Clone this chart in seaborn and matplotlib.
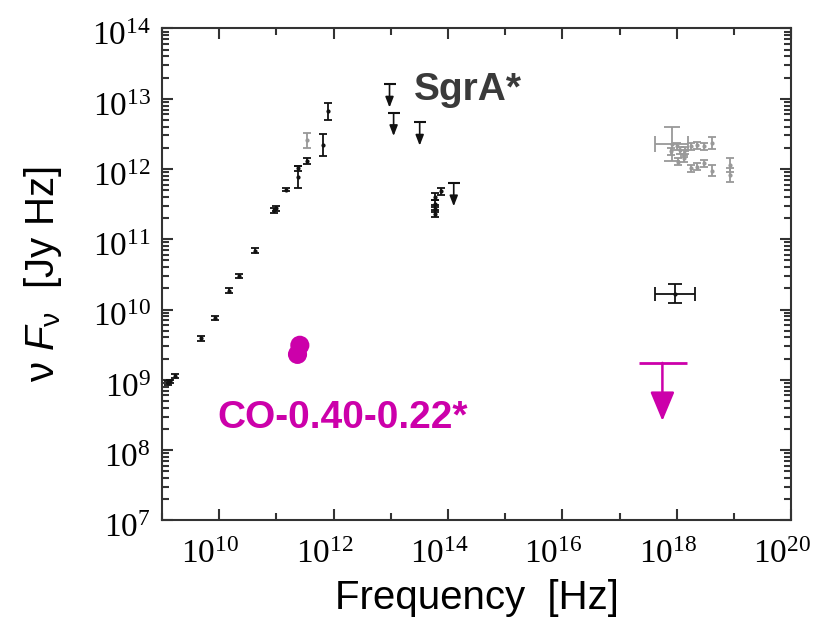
import numpy as np
import matplotlib
matplotlib.use("Agg")
import matplotlib.pyplot as plt
import matplotlib.ticker as mticker
import matplotlib.transforms as mtrans
import seaborn as sns

# radio / submm detections of SgrA* (Hz, Jy Hz)
radio_freq = [1.29e9, 1.38e9, 1.7e9, 4.9e9, 8.3e9, 1.48e10, 2.24e10, 4.3e10,
              9.1e10, 1.0e11, 1.48e11, 2.34e11, 2.34e11, 3.4e11, 6.5e11, 8.1e11]
radio_flux = [9.1e8, 9.5e8, 1.12e9, 3.9e9, 7.6e9, 1.86e10, 3.0e10, 6.9e10,
              2.57e11, 2.75e11, 5.1e11, 1.02e12, 7.8e11, 1.29e12, 2.19e12, 6.6e12]
radio_lo = [8.5e8, 8.9e8, 1.05e9, 3.6e9, 7.1e9, 1.7e10, 2.8e10, 6.3e10,
            2.35e11, 2.55e11, 4.8e11, 9.3e11, 5.4e11, 1.18e12, 1.51e12, 4.9e12]
radio_hi = [9.7e8, 1.01e9, 1.19e9, 4.2e9, 8.1e9, 2.03e10, 3.2e10, 7.5e10,
            2.8e11, 2.95e11, 5.4e11, 1.12e12, 1.1e12, 1.41e12, 3.16e12, 8.7e12]

# grey submm point
submm_freq = [3.4e11]
submm_flux = [2.57e12]
submm_lo = [2.0e12]
submm_hi = [3.2e12]

# IR detections
ir_freq = [5.9e13, 5.9e13, 5.9e13, 5.9e13, 7.5e13]
ir_flux = [4.0e11, 3.2e11, 2.7e11, 2.3e11, 4.8e11]
ir_dex = [0.05, 0.05, 0.05, 0.05, 0.05]

# IR upper limits
ul_freq = [9.5e12, 1.12e13, 3.2e13, 1.26e14]
ul_flux = [1.6e13, 6.3e12, 4.6e12, 6.3e11]

# X-ray flares (grey)
xf_big_freq = [8.1e17]
xf_big_flux = [2.3e12]
xf_big_xlo, xf_big_xhi = [4.2e17], [1.6e18]
xf_big_ylo, xf_big_yhi = [1.29e12], [4.0e12]
xf_freq = [7.8e17, 1.0e18, 1.15e18, 1.32e18, 1.41e18, 1.74e18, 2.24e18, 2.95e18,
           4.1e18, 1.07e18, 1.32e18, 1.74e18, 2.24e18, 2.95e18, 4.1e18, 8.5e18, 8.5e18]
xf_flux = [1.78e12, 2.09e12, 1.86e12, 1.66e12, 1.86e12, 2.09e12, 2.19e12, 2.09e12,
           2.34e12, 1.26e12, 1.41e12, 1.02e12, 1.07e12, 1.2e12, 9.5e11, 1.15e12, 8.1e11]
xf_dex = [0.05, 0.05, 0.05, 0.05, 0.05, 0.05, 0.05, 0.05,
          0.08, 0.05, 0.05, 0.05, 0.05, 0.05, 0.08, 0.1, 0.1]

# X-ray quiescent (black)
xq_freq = [9.3e17]
xq_flux = [1.66e10]
xq_xlo, xq_xhi = [4.2e17], [2.1e18]
xq_ylo, xq_yhi = [1.23e10], [2.3e10]

# CO-0.40-0.22*
co_freq = [2.57e11, 2.34e11]
co_flux = [3.1e9, 2.3e9]
co_ul_freq = [5.6e17]
co_ul_flux = [1.74e9]
co_ul_xlo, co_ul_xhi = [2.2e17], [1.5e18]
co_ul_tip = [2.6e8]

x_major = [1e10, 1e12, 1e14, 1e16, 1e18, 1e20]
x_minor = [1e9, 1e11, 1e13, 1e15, 1e17, 1e19]
y_major = [1e7, 1e8, 1e9, 1e10, 1e11, 1e12, 1e13, 1e14]

MAG = "#cc00aa"
GREY = "#999999"
INK = "#111111"

sns.set_theme(style="ticks")
plt.rcParams["font.family"] = ["Liberation Sans", "DejaVu Sans"]
plt.rcParams["mathtext.fontset"] = "custom"
plt.rcParams["mathtext.rm"] = "Liberation Sans"
plt.rcParams["mathtext.it"] = "Liberation Sans:italic"

fig = plt.figure(figsize=(8.14, 6.18), dpi=100)
ax = fig.add_axes([0.199, 0.158, 0.773, 0.796])
ax.set_xscale("log")
ax.set_yscale("log")
ax.set_xlim(1e9, 1e20)
ax.set_ylim(1e7, 1e14)


def ebar(x, y, lo, hi, color, xlo=None, xhi=None, cap=3):
    x = np.array(x); y = np.array(y)
    yerr = [y - np.array(lo), np.array(hi) - y]
    xerr = None
    if xlo is not None:
        xerr = [x - np.array(xlo), np.array(xhi) - x]
    ax.errorbar(x, y, yerr=yerr, xerr=xerr, fmt="o", ms=2, color=color,
                ecolor=color, elinewidth=1.3, capsize=cap, capthick=1.3, zorder=3)


ebar(radio_freq, radio_flux, radio_lo, radio_hi, INK)
ebar(submm_freq, submm_flux, submm_lo, submm_hi, GREY)
ir_f = np.array(ir_flux); ir_d = np.array(ir_dex)
ebar(ir_freq, ir_flux, ir_f * 10 ** -ir_d, ir_f * 10 ** ir_d, INK)

xf_f = np.array(xf_flux); xf_d = np.array(xf_dex)
ebar(xf_freq, xf_flux, xf_f * 10 ** -xf_d, xf_f * 10 ** xf_d, GREY)
ebar(xf_big_freq, xf_big_flux, xf_big_ylo, xf_big_yhi, GREY,
     xlo=xf_big_xlo, xhi=xf_big_xhi, cap=6)
ebar(xq_freq, xq_flux, xq_ylo, xq_yhi, INK, xlo=xq_xlo, xhi=xq_xhi, cap=5)

# IR upper limits: cap + down arrow
ax.plot(ul_freq, ul_flux, ls="none", marker="_", ms=8, mew=1.5, color=INK)
for f, s in zip(ul_freq, ul_flux):
    ax.annotate("", xy=(f, s * 10 ** -0.33), xytext=(f, s),
                arrowprops=dict(arrowstyle="-|>,head_width=0.35,head_length=0.9",
                                color=INK, lw=1.2, mutation_scale=7,
                                shrinkA=0, shrinkB=0))

# CO-0.40-0.22* points
sns.scatterplot(x=co_freq, y=co_flux, color=MAG, s=190, edgecolor="none",
                ax=ax, zorder=4)
ax.errorbar(co_ul_freq, co_ul_flux,
            xerr=[np.array(co_ul_freq) - np.array(co_ul_xlo),
                  np.array(co_ul_xhi) - np.array(co_ul_freq)],
            fmt="none", ecolor=MAG, elinewidth=2, capsize=0)
for f, s, t in zip(co_ul_freq, co_ul_flux, co_ul_tip):
    ax.annotate("", xy=(f, t), xytext=(f, s),
                arrowprops=dict(arrowstyle="-|>,head_width=0.5,head_length=1.2",
                                color=MAG, lw=1.8, mutation_scale=15,
                                shrinkA=0, shrinkB=0))

ax.text(10 ** 13.41, 10 ** 13.12, "SgrA*", fontsize=28, fontweight="bold",
        color="#3a3a3a", ha="left", va="center")
ax.text(10 ** 9.97, 10 ** 8.45, "CO-0.40-0.22*", fontsize=28, fontweight="bold",
        color=MAG, ha="left", va="center")

# axes styling
ax.xaxis.set_major_locator(mticker.FixedLocator(x_major))
ax.xaxis.set_minor_locator(mticker.FixedLocator(x_minor))
ax.yaxis.set_major_locator(mticker.FixedLocator(y_major))
ax.yaxis.set_minor_locator(mticker.LogLocator(base=10, subs=np.arange(2, 10), numticks=20))
fmt = mticker.FuncFormatter(lambda v, p: r"$\mathregular{10^{%d}}$" % round(np.log10(v)))
ax.xaxis.set_major_formatter(fmt)
ax.yaxis.set_major_formatter(fmt)
ax.xaxis.set_minor_formatter(mticker.NullFormatter())
ax.yaxis.set_minor_formatter(mticker.NullFormatter())
ax.tick_params(which="both", direction="in", top=True, right=True,
               color="#333333", width=1.5)
ax.tick_params(which="major", length=8)
ax.tick_params(which="minor", length=5)
ax.tick_params(axis="x", which="major", pad=14)
ax.tick_params(axis="y", which="major", pad=8)
shift = mtrans.ScaledTranslation(-9 / 100, 0, fig.dpi_scale_trans)
yshift = mtrans.ScaledTranslation(0, -5 / 100, fig.dpi_scale_trans)
for lab in ax.get_xticklabels():
    lab.set_fontfamily("Liberation Serif")
    lab.set_fontsize(24)
    lab.set_color("black")
    lab.set_transform(lab.get_transform() + shift)
for lab in ax.get_yticklabels():
    lab.set_fontfamily("Liberation Serif")
    lab.set_fontsize(24)
    lab.set_color("black")
    lab.set_transform(lab.get_transform() + yshift)
for sp in ax.spines.values():
    sp.set_color("#333333")
    sp.set_linewidth(1.5)

ax.set_xlabel("Frequency  [Hz]", fontsize=29, color="black", labelpad=6)
ax.set_ylabel(r"$\mathrm{\nu}\ \mathit{F}_{\mathrm{\nu}}$  [Jy Hz]", fontsize=29,
              color="black", labelpad=20)

fig.savefig("out.png", dpi=100)
